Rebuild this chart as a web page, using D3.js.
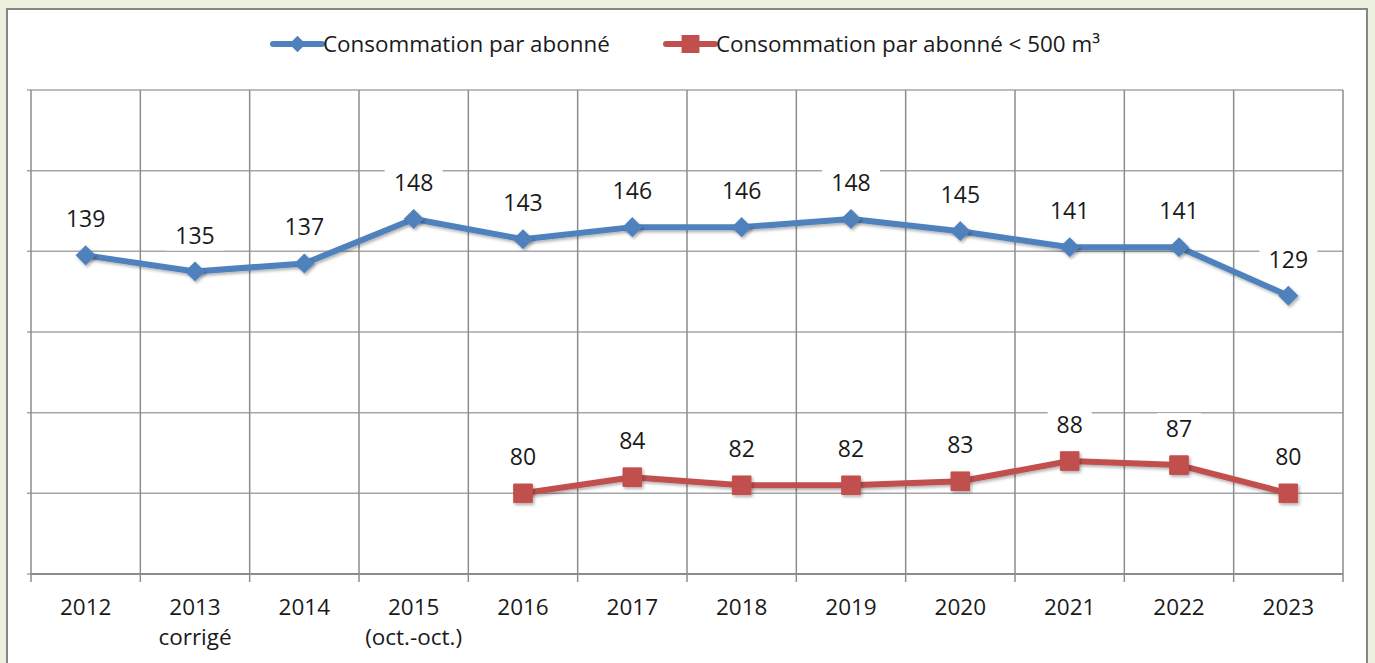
<!DOCTYPE html>
<html>
<head>
<meta charset="utf-8">
<script src="https://cdn.jsdelivr.net/npm/d3@7"></script>
<style>
  body { margin: 0; background: #ebf1de; }
  svg { display: block; }
</style>
</head>
<body>
<div id="chart"></div>
<script>
// data
const categories = ["2012", "2013\ncorrigé", "2014", "2015\n(oct.-oct.)", "2016", "2017", "2018", "2019", "2020", "2021", "2022", "2023"];
const seriesNames = ["Consommation par abonné", "Consommation par abonné < 500 m³"];
const totalValues = [139, 135, 137, 148, 143, 146, 146, 148, 145, 141, 141, 129];
const smallValues = [null, null, null, null, 80, 84, 82, 82, 83, 88, 87, 80];
const yTicks = [60, 80, 100, 120, 140, 160, 180];

const width = 1375, height = 663;
const colors = ["#4f81bd", "#c0504d"];
const font = "'Open Sans', sans-serif";

const svg = d3.select("#chart")
  .append("svg")
  .attr("width", width)
  .attr("height", height);

const defs = svg.append("defs");
const shadow = defs.append("filter").attr("id", "shadow")
  .attr("x", "-30%").attr("y", "-30%").attr("width", "160%").attr("height", "160%");
shadow.append("feDropShadow")
  .attr("dx", 1.5).attr("dy", 2).attr("stdDeviation", 1.5)
  .attr("flood-color", "#000").attr("flood-opacity", 0.3);

// chart frame
svg.append("rect")
  .attr("x", 7).attr("y", 9)
  .attr("width", 1360).attr("height", 670)
  .attr("fill", "#fff")
  .attr("stroke", "#868686")
  .attr("stroke-width", 2);

const plot = { left: 31, right: 1343, top: 90, bottom: 574 };

const x = d3.scaleBand()
  .domain(categories)
  .range([plot.left, plot.right]);

const y = d3.scaleLinear()
  .domain([60, 180])
  .range([plot.bottom, plot.top]);

// horizontal gridlines
svg.append("g")
  .selectAll("line")
  .data(yTicks)
  .join("line")
  .attr("x1", plot.left - 4)
  .attr("x2", plot.right)
  .attr("y1", d => y(d))
  .attr("y2", d => y(d))
  .attr("stroke", "#a6a6a6")
  .attr("stroke-width", 1.5);

// vertical gridlines at band edges
const edges = categories.map(c => x(c)).concat([plot.right]);
svg.append("g")
  .selectAll("line")
  .data(edges)
  .join("line")
  .attr("x1", d => d)
  .attr("x2", d => d)
  .attr("y1", plot.top)
  .attr("y2", plot.bottom + 8)
  .attr("stroke", "#8c8c8c")
  .attr("stroke-width", 1.5);

// bottom axis line
svg.append("line")
  .attr("x1", plot.left)
  .attr("x2", plot.right)
  .attr("y1", plot.bottom)
  .attr("y2", plot.bottom)
  .attr("stroke", "#8c8c8c")
  .attr("stroke-width", 2);

// x labels
const xLabels = svg.append("g")
  .selectAll("text")
  .data(categories)
  .join("text")
  .attr("x", d => x(d) + x.bandwidth() / 2)
  .attr("y", 615)
  .attr("text-anchor", "middle")
  .style("font-family", font)
  .style("font-size", "22.5px")
  .attr("fill", "#1a1a1a");

xLabels.selectAll("tspan")
  .data(d => d.split("\n"))
  .join("tspan")
  .attr("x", function() { return d3.select(this.parentNode).attr("x"); })
  .attr("dy", (d, i) => i === 0 ? 0 : 30)
  .text(d => d);

const cx = i => x(categories[i]) + x.bandwidth() / 2;

const drawSeries = (values, color, shape) => {
  const pts = values.map((v, i) => ({ v, i })).filter(d => d.v !== null);
  const g = svg.append("g");

  g.append("path")
    .datum(pts)
    .attr("fill", "none")
    .attr("stroke", color)
    .attr("stroke-width", 6)
    .attr("stroke-linejoin", "round")
    .attr("filter", "url(#shadow)")
    .attr("d", d3.line().x(d => cx(d.i)).y(d => y(d.v)));

  g.selectAll("path.marker")
    .data(pts)
    .join("path")
    .attr("class", "marker")
    .attr("transform", d => `translate(${cx(d.i)},${y(d.v)})`)
    .attr("d", d3.symbol().type(shape === "diamond" ? d3.symbolDiamond2 : d3.symbolSquare2).size(shape === "diamond" ? 160 : 440))
    .attr("fill", color)
    .attr("stroke", color)
    .attr("stroke-width", shape === "diamond" ? 3 : 1)
    .attr("filter", "url(#shadow)");

  // data labels with white boxes
  const lab = g.selectAll("g.lab")
    .data(pts)
    .join("g")
    .attr("class", "lab")
    .attr("transform", d => `translate(${cx(d.i)},${y(d.v) - 28})`);

  lab.append("rect")
    .attr("x", d => -(String(d.v).length * 7 + 8))
    .attr("y", -24)
    .attr("width", d => 2 * (String(d.v).length * 7 + 8))
    .attr("height", 31)
    .attr("fill", "#fff");

  lab.append("text")
    .attr("text-anchor", "middle")
    .style("font-family", font)
    .style("font-size", "23px")
    .attr("fill", "#1a1a1a")
    .text(d => d.v);
};

drawSeries(totalValues, colors[0], "diamond");
drawSeries(smallValues, colors[1], "square");

// legend
const legendItems = [
  { name: seriesNames[0], color: colors[0], shape: "diamond", x: 273 },
  { name: seriesNames[1], color: colors[1], shape: "square", x: 666 }
];
const leg = svg.append("g")
  .selectAll("g")
  .data(legendItems)
  .join("g")
  .attr("transform", d => `translate(${d.x},44)`);

leg.append("line")
  .attr("x1", 0).attr("x2", 49)
  .attr("stroke", d => d.color)
  .attr("stroke-width", 6)
  .attr("stroke-linecap", "round");

leg.append("path")
  .attr("transform", "translate(24.5,0)")
  .attr("d", d => d3.symbol().type(d.shape === "diamond" ? d3.symbolDiamond2 : d3.symbolSquare2).size(d.shape === "diamond" ? 120 : 320)())
  .attr("fill", d => d.color)
  .attr("stroke", d => d.color)
  .attr("stroke-width", 2);

leg.append("text")
  .attr("x", 50)
  .attr("y", 8)
  .style("font-family", font)
  .style("font-size", "22.4px")
  .attr("fill", "#1a1a1a")
  .text(d => d.name);
</script>
</body>
</html>
